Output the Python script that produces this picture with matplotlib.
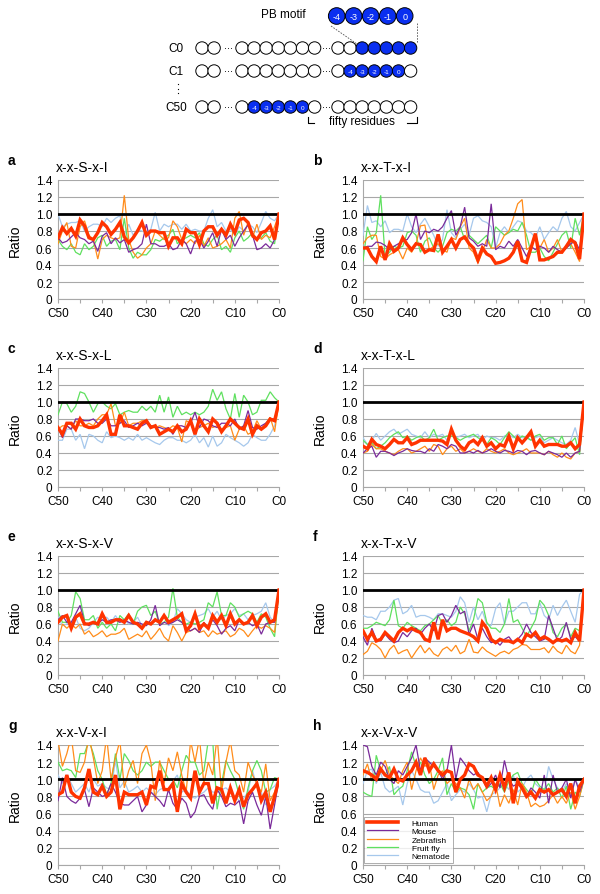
import matplotlib
matplotlib.use("Agg")
import matplotlib.pyplot as plt
from matplotlib.patches import Circle
from matplotlib.lines import Line2D

plt.rcParams['font.family'] = ['Liberation Sans', 'DejaVu Sans']

# ---------------- data ----------------
POSITIONS = list(range(50, -1, -1))          # C50 ... C0
XTICK_LABEL_VALUES = [50, 40, 30, 20, 10, 0]
YTICKS = [0, 0.2, 0.4, 0.6, 0.8, 1.0, 1.2, 1.4]
YTICK_LABELS = ["0", "0.2", "0.4", "0.6", "0.8", "1.0", "1.2", "1.4"]
SPECIES = ["Human", "Mouse", "Zebrafish", "Fruit fly", "Nematode"]
LETTERS = ["a", "b", "c", "d", "e", "f", "g", "h"]
MOTIFS = ["x-x-S-x-I", "x-x-T-x-I", "x-x-S-x-L", "x-x-T-x-L",
          "x-x-S-x-V", "x-x-T-x-V", "x-x-V-x-I", "x-x-V-x-V"]

# panel a
A_HUMAN = [0.72, 0.84, 0.77, 0.83, 0.74, 0.93, 0.86, 0.72, 0.70, 0.78,
           0.90, 0.85, 0.76, 0.82, 0.90, 0.73, 0.66, 0.72, 0.80, 0.90,
           0.75, 0.80, 0.80, 0.78, 0.78, 0.62, 0.72, 0.72, 0.65, 0.82,
           0.78, 0.78, 0.64, 0.80, 0.85, 0.85, 0.75, 0.82, 0.75, 0.88,
           0.78, 0.93, 0.95, 0.90, 0.75, 0.70, 0.78, 0.80, 0.86, 0.70, 1.0]
A_MOUSE = [0.72, 0.66, 0.68, 0.73, 0.78, 0.72, 0.70, 0.65, 0.68, 0.56,
           0.74, 0.78, 0.65, 0.72, 0.66, 0.70, 0.55, 0.58, 0.60, 0.65,
           0.88, 0.65, 0.65, 0.62, 0.62, 0.65, 0.58, 0.60, 0.70, 0.65,
           0.53, 0.68, 0.70, 0.60, 0.68, 0.78, 0.62, 0.82, 0.70, 0.75,
           0.62, 0.72, 0.80, 0.87, 0.75, 0.58, 0.60, 0.65, 0.60, 0.70, 1.0]
A_ZEBRA = [0.65, 0.80, 0.90, 0.62, 0.60, 0.85, 0.92, 0.75, 0.70, 0.47,
           0.70, 0.75, 0.72, 0.70, 0.72, 1.22, 0.70, 0.55, 0.48, 0.52,
           0.60, 0.65, 0.80, 0.75, 0.70, 0.72, 0.92, 0.85, 0.70, 0.65,
           0.70, 0.65, 0.75, 0.62, 0.72, 0.60, 0.62, 0.65, 0.70, 0.60,
           0.95, 1.03, 0.75, 0.90, 0.72, 0.88, 0.70, 0.75, 0.72, 0.85, 1.0]
A_FLY = [0.70, 0.62, 0.58, 0.65, 0.55, 0.52, 0.65, 0.58, 0.62, 0.72,
         0.75, 0.62, 0.68, 0.70, 0.58, 0.95, 0.60, 0.48, 0.55, 0.52,
         0.52, 0.58, 0.70, 0.68, 0.72, 0.75, 0.82, 0.65, 0.70, 0.72,
         0.75, 0.72, 0.78, 0.65, 0.62, 0.70, 0.75, 0.58, 0.62, 0.55,
         0.72, 0.80, 0.68, 0.72, 0.78, 0.70, 0.72, 0.78, 0.68, 0.65, 1.0]
A_WORM = [1.00, 0.85, 0.88, 0.90, 0.90, 0.92, 0.80, 0.85, 0.88, 0.88,
          0.85, 0.95, 0.90, 0.95, 0.98, 0.75, 0.88, 0.75, 0.82, 0.80,
          0.78, 0.82, 1.02, 0.80, 0.88, 0.85, 0.88, 0.88, 0.82, 0.88,
          0.80, 0.82, 0.80, 0.80, 0.95, 1.05, 0.85, 0.90, 0.80, 0.82,
          0.75, 0.85, 0.80, 0.88, 0.85, 0.78, 0.90, 1.03, 0.95, 0.92, 1.0]

# panel b
B_HUMAN = [0.60, 0.60, 0.50, 0.44, 0.62, 0.46, 0.65, 0.56, 0.60, 0.72,
           0.64, 0.58, 0.65, 0.64, 0.55, 0.58, 0.57, 0.76, 0.55, 0.62,
           0.70, 0.60, 0.70, 0.73, 0.65, 0.60, 0.46, 0.60, 0.53, 0.50,
           0.42, 0.43, 0.45, 0.48, 0.55, 0.68, 0.45, 0.43, 0.60, 0.77,
           0.46, 0.46, 0.48, 0.50, 0.55, 0.55, 0.62, 0.70, 0.66, 0.47, 1.0]
B_MOUSE = [0.60, 0.62, 0.62, 0.67, 0.66, 0.63, 0.58, 0.62, 0.65, 0.68,
           0.70, 0.78, 1.00, 0.70, 0.80, 0.78, 0.82, 0.80, 0.85, 0.95,
           1.04, 0.75, 0.85, 1.08, 0.72, 0.68, 0.62, 0.65, 0.62, 1.12,
           0.58, 0.62, 0.60, 0.68, 0.62, 0.70, 0.60, 0.50, 0.62, 0.58,
           0.62, 0.60, 0.55, 0.62, 0.58, 0.55, 0.60, 0.65, 0.68, 0.58, 1.0]
B_ZEBRA = [0.65, 0.72, 0.75, 0.75, 0.50, 0.47, 0.52, 0.55, 0.58, 0.47,
           0.60, 0.55, 0.65, 0.86, 0.87, 0.58, 0.62, 0.65, 0.58, 0.55,
           0.72, 0.70, 0.85, 0.95, 0.60, 0.55, 0.42, 0.55, 0.70, 0.60,
           0.60, 0.65, 0.75, 0.80, 0.95, 1.12, 1.17, 0.58, 0.62, 0.75,
           0.60, 0.70, 0.55, 0.60, 0.70, 0.55, 0.60, 0.65, 0.55, 0.44, 1.0]
B_FLY = [0.45, 0.85, 0.70, 0.78, 1.22, 0.50, 0.55, 0.62, 0.60, 0.62,
         0.78, 0.80, 0.75, 0.55, 0.68, 0.72, 0.60, 0.55, 0.62, 0.78,
         0.82, 0.80, 0.85, 0.70, 0.75, 0.70, 0.65, 0.70, 0.75, 0.60,
         0.85, 0.80, 0.75, 0.78, 0.82, 0.80, 0.90, 0.75, 0.55, 0.55,
         0.60, 0.50, 0.45, 0.55, 0.65, 0.75, 0.80, 0.60, 0.95, 0.75, 1.0]
B_WORM = [0.75, 1.10, 0.90, 0.92, 0.85, 0.92, 0.78, 0.82, 0.82, 0.80,
          1.00, 0.85, 0.78, 0.88, 0.95, 0.85, 0.75, 0.62, 0.70, 1.05,
          0.78, 0.72, 0.82, 0.88, 0.75, 0.95, 0.98, 0.92, 0.90, 0.85,
          0.60, 0.78, 0.85, 0.78, 0.85, 0.92, 0.90, 0.80, 0.78, 0.72,
          0.85, 0.70, 0.78, 0.85, 0.80, 0.95, 1.03, 0.85, 0.80, 0.90, 1.0]

# panel c
C_HUMAN = [0.70, 0.62, 0.75, 0.75, 0.68, 0.80, 0.72, 0.70, 0.70, 0.72,
           0.78, 0.85, 0.62, 0.62, 0.85, 0.72, 0.72, 0.70, 0.68, 0.75,
           0.78, 0.70, 0.72, 0.62, 0.65, 0.68, 0.65, 0.72, 0.65, 0.68,
           0.78, 0.62, 0.80, 0.72, 0.65, 0.80, 0.75, 0.65, 0.72, 0.80,
           0.75, 0.70, 0.68, 0.80, 0.62, 0.72, 0.68, 0.72, 0.80, 0.78, 1.0]
C_MOUSE = [0.70, 0.58, 0.72, 0.68, 0.80, 0.80, 0.78, 0.78, 0.80, 0.75,
           0.75, 0.80, 0.72, 0.72, 0.75, 0.78, 0.70, 0.72, 0.75, 0.72,
           0.75, 0.72, 0.70, 0.70, 0.68, 0.70, 0.62, 0.72, 0.72, 0.70,
           0.75, 0.88, 0.70, 0.80, 0.78, 0.72, 0.70, 0.75, 0.75, 0.72,
           0.80, 0.68, 0.72, 0.90, 0.70, 0.68, 0.72, 0.75, 0.80, 0.80, 1.0]
C_ZEBRA = [0.68, 0.72, 0.72, 0.68, 0.78, 0.72, 0.72, 0.75, 0.72, 0.80,
           0.85, 0.85, 0.98, 0.72, 0.75, 0.88, 0.72, 0.75, 0.75, 0.78,
           0.78, 0.72, 0.70, 0.72, 0.70, 0.68, 0.72, 0.70, 0.53, 0.78,
           0.75, 0.65, 0.70, 0.72, 0.75, 0.70, 0.72, 0.68, 0.70, 0.72,
           0.55, 0.68, 0.72, 0.62, 0.65, 0.78, 0.68, 0.75, 0.82, 0.65, 1.0]
C_FLY = [0.85, 1.00, 0.98, 0.88, 0.95, 1.12, 1.10, 1.00, 0.88, 0.98,
         1.00, 0.95, 0.92, 0.98, 0.85, 0.88, 0.90, 0.88, 0.88, 0.95,
         0.90, 0.95, 0.88, 1.08, 0.88, 1.06, 0.82, 0.95, 0.85, 0.88,
         0.85, 0.88, 0.85, 0.88, 0.95, 1.15, 1.02, 1.12, 0.92, 0.80,
         1.10, 0.82, 1.08, 1.00, 0.85, 0.88, 1.02, 1.02, 1.12, 1.05, 1.0]
C_WORM = [0.55, 0.55, 0.68, 0.68, 0.55, 0.62, 0.45, 0.62, 0.60, 0.55,
          0.52, 0.65, 0.58, 0.60, 0.58, 0.55, 0.58, 0.55, 0.62, 0.55,
          0.58, 0.55, 0.52, 0.50, 0.55, 0.58, 0.58, 0.55, 0.55, 0.52,
          0.55, 0.62, 0.52, 0.58, 0.47, 0.60, 0.48, 0.52, 0.62, 0.58,
          0.55, 0.52, 0.48, 0.52, 0.62, 0.58, 0.55, 0.55, 0.62, 0.72, 1.0]

# panel d
D_HUMAN = [0.48, 0.45, 0.56, 0.50, 0.48, 0.45, 0.50, 0.56, 0.52, 0.52,
           0.58, 0.50, 0.52, 0.55, 0.55, 0.55, 0.55, 0.55, 0.54, 0.50,
           0.68, 0.55, 0.48, 0.44, 0.52, 0.55, 0.50, 0.58, 0.48, 0.52,
           0.45, 0.50, 0.48, 0.60, 0.45, 0.58, 0.52, 0.58, 0.65, 0.48,
           0.55, 0.48, 0.50, 0.50, 0.50, 0.48, 0.48, 0.52, 0.45, 0.50, 1.0]
D_MOUSE = [0.40, 0.45, 0.48, 0.35, 0.42, 0.42, 0.40, 0.37, 0.40, 0.42,
           0.45, 0.43, 0.42, 0.42, 0.40, 0.45, 0.42, 0.50, 0.48, 0.45,
           0.50, 0.48, 0.40, 0.40, 0.42, 0.40, 0.43, 0.40, 0.42, 0.45,
           0.42, 0.40, 0.43, 0.42, 0.40, 0.43, 0.42, 0.38, 0.42, 0.43,
           0.40, 0.38, 0.42, 0.40, 0.38, 0.35, 0.40, 0.35, 0.40, 0.42, 1.0]
D_ZEBRA = [0.40, 0.42, 0.50, 0.45, 0.45, 0.42, 0.40, 0.38, 0.42, 0.45,
           0.45, 0.40, 0.42, 0.45, 0.48, 0.42, 0.50, 0.48, 0.38, 0.45,
           0.48, 0.42, 0.45, 0.40, 0.42, 0.45, 0.42, 0.40, 0.45, 0.42,
           0.40, 0.42, 0.45, 0.40, 0.38, 0.40, 0.42, 0.45, 0.40, 0.40,
           0.40, 0.38, 0.42, 0.38, 0.35, 0.40, 0.35, 0.33, 0.40, 0.42, 1.0]
D_FLY = [0.55, 0.50, 0.52, 0.45, 0.48, 0.52, 0.58, 0.62, 0.65, 0.58,
         0.60, 0.55, 0.58, 0.60, 0.55, 0.58, 0.68, 0.55, 0.58, 0.60,
         0.60, 0.58, 0.55, 0.58, 0.60, 0.62, 0.58, 0.55, 0.50, 0.58,
         0.55, 0.50, 0.58, 0.65, 0.60, 0.55, 0.60, 0.58, 0.55, 0.60,
         0.62, 0.55, 0.58, 0.58, 0.50, 0.60, 0.45, 0.52, 0.58, 0.38, 1.0]
D_WORM = [0.58, 0.50, 0.55, 0.63, 0.55, 0.60, 0.65, 0.68, 0.62, 0.65,
          0.68, 0.62, 0.60, 0.58, 0.65, 0.58, 0.62, 0.60, 0.62, 0.55,
          0.65, 0.58, 0.60, 0.62, 0.58, 0.60, 0.62, 0.55, 0.60, 0.58,
          0.58, 0.55, 0.60, 0.62, 0.58, 0.62, 0.58, 0.60, 0.55, 0.58,
          0.60, 0.52, 0.55, 0.58, 0.55, 0.52, 0.50, 0.55, 0.70, 0.50, 1.0]

# panel e
E_HUMAN = [0.62, 0.68, 0.70, 0.55, 0.68, 0.72, 0.60, 0.60, 0.62, 0.60,
           0.72, 0.62, 0.62, 0.65, 0.65, 0.62, 0.70, 0.62, 0.60, 0.55,
           0.62, 0.60, 0.65, 0.62, 0.70, 0.62, 0.65, 0.68, 0.72, 0.52,
           0.58, 0.72, 0.55, 0.60, 0.55, 0.70, 0.62, 0.70, 0.58, 0.72,
           0.60, 0.65, 0.60, 0.62, 0.70, 0.58, 0.68, 0.72, 0.62, 0.65, 1.0]
E_MOUSE = [0.65, 0.70, 0.62, 0.62, 0.72, 0.82, 0.62, 0.58, 0.62, 0.60,
           0.65, 0.62, 0.65, 0.65, 0.62, 0.65, 0.62, 0.60, 0.62, 0.60,
           0.58, 0.65, 0.82, 0.58, 0.62, 0.60, 0.62, 0.65, 0.62, 0.55,
           0.52, 0.55, 0.50, 0.62, 0.55, 0.65, 0.58, 0.48, 0.55, 0.58,
           0.52, 0.65, 0.60, 0.62, 0.58, 0.60, 0.48, 0.60, 0.62, 0.62, 1.0]
E_ZEBRA = [0.40, 0.60, 0.55, 0.60, 0.55, 0.60, 0.48, 0.52, 0.45, 0.48,
           0.52, 0.45, 0.48, 0.48, 0.50, 0.55, 0.42, 0.45, 0.48, 0.45,
           0.52, 0.42, 0.48, 0.55, 0.45, 0.40, 0.58, 0.50, 0.40, 0.50,
           0.52, 0.55, 0.50, 0.52, 0.45, 0.52, 0.48, 0.50, 0.52, 0.45,
           0.48, 0.55, 0.52, 0.45, 0.52, 0.58, 0.55, 0.58, 0.55, 0.50, 1.0]
E_FLY = [0.75, 0.62, 0.62, 0.70, 0.98, 0.90, 0.65, 0.65, 0.70, 0.55,
         0.62, 0.55, 0.60, 0.52, 0.70, 0.65, 0.72, 0.60, 0.75, 0.80,
         0.82, 0.70, 0.75, 0.60, 0.62, 0.68, 1.02, 0.68, 0.62, 0.60,
         0.62, 0.60, 0.62, 0.65, 0.85, 0.80, 0.98, 0.70, 0.70, 0.85,
         0.80, 0.68, 0.72, 0.75, 0.72, 0.62, 0.72, 0.68, 0.55, 0.45, 1.0]
E_WORM = [0.68, 0.58, 0.60, 0.62, 0.68, 0.55, 0.52, 0.55, 0.62, 0.68,
          0.65, 0.68, 0.62, 0.70, 0.62, 0.65, 0.60, 0.62, 0.68, 0.58,
          0.62, 0.60, 0.65, 0.62, 0.70, 0.58, 0.62, 0.78, 0.72, 0.65,
          0.62, 0.68, 0.70, 0.72, 0.78, 0.68, 0.75, 0.65, 0.70, 0.72,
          0.78, 0.70, 0.72, 0.65, 0.70, 0.72, 0.75, 0.85, 0.68, 0.62, 1.0]

# panel f
F_HUMAN = [0.52, 0.42, 0.50, 0.40, 0.42, 0.50, 0.45, 0.40, 0.50, 0.55,
           0.52, 0.55, 0.52, 0.50, 0.42, 0.40, 0.62, 0.42, 0.65, 0.52,
           0.55, 0.55, 0.52, 0.50, 0.48, 0.45, 0.40, 0.62, 0.55, 0.42,
           0.38, 0.42, 0.40, 0.40, 0.38, 0.42, 0.38, 0.48, 0.45, 0.50,
           0.42, 0.45, 0.42, 0.38, 0.42, 0.40, 0.42, 0.38, 0.50, 0.40, 1.0]
F_MOUSE = [0.45, 0.35, 0.55, 0.42, 0.40, 0.48, 0.42, 0.38, 0.40, 0.50,
           0.45, 0.52, 0.55, 0.48, 0.55, 0.60, 0.52, 0.70, 0.72, 0.62,
           0.70, 0.82, 0.72, 0.75, 0.48, 0.60, 0.42, 0.55, 0.45, 0.38,
           0.40, 0.35, 0.42, 0.45, 0.38, 0.42, 0.48, 0.60, 0.50, 0.45,
           0.40, 0.42, 0.70, 0.55, 0.40, 0.45, 0.62, 0.42, 0.45, 0.40, 1.0]
F_ZEBRA = [0.24, 0.28, 0.38, 0.35, 0.30, 0.20, 0.30, 0.35, 0.25, 0.28,
           0.30, 0.20, 0.28, 0.35, 0.26, 0.32, 0.25, 0.22, 0.30, 0.33,
           0.28, 0.35, 0.25, 0.28, 0.42, 0.27, 0.26, 0.33, 0.28, 0.25,
           0.22, 0.26, 0.28, 0.25, 0.30, 0.32, 0.36, 0.35, 0.30, 0.30,
           0.30, 0.32, 0.26, 0.34, 0.28, 0.25, 0.35, 0.28, 0.25, 0.35, 1.0]
F_FLY = [0.55, 0.55, 0.58, 0.62, 0.60, 0.58, 0.65, 0.88, 0.58, 0.55,
         0.62, 0.58, 0.55, 0.52, 0.58, 0.60, 0.65, 0.70, 0.60, 0.65,
         0.58, 0.62, 0.80, 0.72, 0.52, 0.65, 0.90, 0.85, 0.62, 0.55,
         0.55, 0.50, 0.60, 0.90, 0.62, 0.65, 0.55, 0.45, 0.55, 0.65,
         0.88, 0.82, 0.70, 0.50, 0.45, 0.55, 0.60, 0.45, 0.55, 0.52, 1.0]
F_WORM = [0.70, 0.68, 0.68, 0.65, 0.75, 0.75, 0.80, 0.88, 0.90, 0.72,
          0.75, 0.82, 0.68, 0.70, 0.70, 0.68, 0.65, 0.72, 0.72, 0.70,
          0.68, 0.75, 0.92, 0.85, 0.62, 0.80, 0.65, 0.75, 0.60, 0.58,
          0.78, 0.85, 0.60, 0.75, 0.75, 0.80, 0.85, 0.85, 0.72, 0.72,
          0.85, 0.70, 0.65, 0.82, 0.70, 0.80, 0.88, 0.75, 0.62, 0.95, 1.0]

# panel g
G_HUMAN = [0.82, 0.85, 1.05, 0.85, 0.80, 0.78, 0.90, 1.12, 0.85, 0.82,
           0.92, 0.80, 0.85, 1.05, 0.65, 0.85, 0.82, 0.82, 0.82, 0.85,
           0.70, 0.92, 0.90, 1.10, 0.88, 0.88, 0.95, 0.62, 0.95, 0.85,
           0.78, 1.10, 0.85, 0.95, 0.95, 0.72, 0.90, 0.88, 0.72, 0.90,
           0.75, 0.88, 0.68, 0.82, 0.88, 0.95, 0.75, 0.85, 0.62, 0.80, 1.0]
G_MOUSE = [0.75, 1.02, 0.80, 0.75, 0.72, 0.78, 0.88, 0.68, 0.90, 0.85,
           0.80, 0.82, 0.95, 0.85, 0.72, 0.70, 0.70, 0.75, 0.80, 0.62,
           0.70, 0.85, 0.80, 0.75, 0.68, 0.88, 0.72, 0.65, 0.78, 0.72,
           0.55, 0.62, 0.80, 0.82, 0.72, 0.65, 0.88, 0.80, 0.68, 0.72,
           0.70, 0.75, 0.48, 0.75, 0.85, 0.70, 0.58, 0.80, 0.42, 0.70, 1.0]
G_ZEBRA = [1.45, 1.15, 1.30, 1.50, 1.10, 1.08, 1.20, 1.50, 1.25, 0.95,
           1.10, 1.50, 1.00, 1.25, 1.45, 0.90, 1.10, 1.22, 0.95, 1.30,
           1.40, 1.20, 0.75, 1.22, 0.95, 1.25, 1.10, 1.32, 1.05, 0.85,
           1.45, 1.20, 1.48, 0.95, 1.20, 1.05, 1.50, 0.85, 1.20, 1.45,
           1.10, 1.05, 0.85, 1.20, 1.05, 0.95, 0.85, 1.18, 0.75, 0.85, 1.0]
G_FLY = [1.20, 1.10, 1.12, 1.10, 1.02, 1.30, 1.30, 1.45, 1.30, 1.10,
         1.00, 0.82, 0.95, 1.30, 1.00, 1.30, 1.22, 1.10, 1.05, 1.10,
         1.20, 1.15, 1.20, 1.20, 1.10, 1.00, 1.00, 0.90, 1.10, 1.28,
         1.20, 1.20, 1.05, 1.10, 1.45, 1.45, 0.65, 0.95, 1.22, 1.10,
         1.00, 0.82, 0.65, 0.90, 1.10, 1.22, 1.10, 0.85, 0.88, 1.02, 1.0]
G_WORM = [1.05, 0.95, 1.05, 0.95, 0.85, 0.90, 0.95, 0.85, 1.00, 0.92,
          0.95, 0.90, 0.88, 1.22, 0.90, 0.98, 0.85, 0.88, 0.92, 0.85,
          0.90, 0.85, 0.82, 0.88, 0.90, 0.85, 0.98, 1.05, 0.85, 0.88,
          0.80, 0.78, 0.82, 0.85, 0.90, 0.85, 0.85, 0.88, 0.90, 0.85,
          0.80, 0.75, 0.78, 0.85, 1.10, 0.92, 0.85, 0.70, 0.88, 0.92, 1.0]

# panel h
H_HUMAN = [1.10, 1.08, 1.05, 1.00, 1.12, 1.05, 1.02, 1.12, 1.00, 0.98,
           1.05, 1.10, 1.20, 1.05, 1.25, 1.10, 1.18, 1.10, 1.05, 1.10,
           1.08, 0.85, 1.00, 1.05, 1.18, 1.15, 1.05, 1.02, 0.92, 1.02,
           0.88, 1.05, 0.90, 1.08, 0.72, 0.98, 0.90, 0.80, 0.85, 0.78,
           0.88, 0.85, 0.88, 0.82, 0.85, 0.88, 0.80, 0.95, 0.72, 0.92, 1.0]
H_MOUSE = [1.40, 1.38, 1.15, 1.05, 1.20, 1.15, 1.00, 0.95, 1.10, 1.05,
           1.15, 1.25, 1.40, 1.10, 1.25, 1.20, 1.15, 1.10, 1.00, 1.10,
           1.40, 1.00, 1.25, 1.18, 1.10, 1.05, 1.08, 1.00, 0.90, 0.95,
           1.05, 0.90, 1.22, 1.00, 0.92, 0.95, 0.88, 0.80, 0.90, 0.85,
           0.78, 1.05, 0.72, 1.05, 0.85, 0.90, 1.00, 0.78, 1.00, 0.85, 1.0]
H_ZEBRA = [1.05, 1.18, 0.98, 1.05, 1.10, 1.22, 1.05, 1.00, 0.95, 1.10,
           1.20, 0.88, 1.10, 1.25, 1.15, 1.20, 0.88, 1.05, 1.10, 0.95,
           1.00, 0.95, 0.90, 0.78, 1.00, 0.88, 0.95, 0.85, 0.75, 0.80,
           0.95, 0.68, 0.82, 0.72, 0.88, 0.70, 0.95, 0.85, 0.68, 0.72,
           0.68, 0.70, 0.75, 0.82, 0.72, 0.80, 0.72, 0.85, 0.65, 0.80, 1.0]
H_FLY = [0.85, 0.82, 0.80, 1.28, 1.10, 1.05, 1.15, 0.82, 0.88, 0.92,
         1.10, 1.32, 1.15, 1.20, 1.05, 0.95, 1.00, 1.10, 1.25, 0.82,
         0.95, 0.85, 0.90, 0.88, 0.82, 0.65, 0.95, 0.85, 0.90, 0.92,
         0.88, 0.95, 0.85, 0.98, 1.05, 1.08, 0.95, 0.88, 0.82, 1.00,
         0.92, 0.88, 0.95, 0.85, 0.90, 0.78, 0.92, 0.65, 0.85, 0.80, 1.0]
H_WORM = [0.95, 1.10, 1.12, 0.95, 1.08, 0.90, 0.85, 0.88, 0.92, 0.70,
          0.95, 1.10, 1.00, 0.88, 0.85, 0.85, 0.72, 0.75, 0.85, 0.95,
          0.75, 0.82, 0.88, 0.85, 0.95, 0.88, 0.78, 0.80, 0.62, 0.82,
          0.85, 0.90, 0.95, 0.88, 1.05, 0.85, 0.90, 1.00, 1.05, 0.95,
          0.90, 0.85, 1.15, 1.00, 0.90, 0.85, 0.95, 0.80, 1.00, 0.90, 1.0]

PANELS = [
    (A_HUMAN, A_MOUSE, A_ZEBRA, A_FLY, A_WORM),
    (B_HUMAN, B_MOUSE, B_ZEBRA, B_FLY, B_WORM),
    (C_HUMAN, C_MOUSE, C_ZEBRA, C_FLY, C_WORM),
    (D_HUMAN, D_MOUSE, D_ZEBRA, D_FLY, D_WORM),
    (E_HUMAN, E_MOUSE, E_ZEBRA, E_FLY, E_WORM),
    (F_HUMAN, F_MOUSE, F_ZEBRA, F_FLY, F_WORM),
    (G_HUMAN, G_MOUSE, G_ZEBRA, G_FLY, G_WORM),
    (H_HUMAN, H_MOUSE, H_ZEBRA, H_FLY, H_WORM),
]

# diagram content
MOTIF_LABELS = ["-4", "-3", "-2", "-1", "0"]
ROW_LABELS = ["C0", "C1", "C50"]

# ---------------- style ----------------
COLORS = {"Human": "#ff3300", "Mouse": "#7a2a9a", "Zebrafish": "#ff8c1a",
          "Fruit fly": "#5fe05f", "Nematode": "#a6c8ec"}
WIDTHS = {"Human": 2.4, "Mouse": 0.9, "Zebrafish": 0.9, "Fruit fly": 0.9, "Nematode": 0.9}
BLUE = "#0a2ff0"
GRID = "#a8a8a8"

W, H = 600, 895
fig = plt.figure(figsize=(W / 100, H / 100), dpi=100)

def fx(px):
    return px / W

def fy(px):
    return 1 - px / H

# ---------------- schematic ----------------
top = fig.add_axes([0, fy(140), 1, 140 / H])
top.set_xlim(0, W)
top.set_ylim(140, 0)
top.axis("off")

r_small, step = 6.2, 12.1
xs_a = [202 + k * step for k in range(2)]
xs_b = [242 + k * step for k in range(7)]
xs_c = [338 + k * step for k in range(7)]
row_y = [49, 72, 108]
# (group, first blue index, labelled?)
row_spec = [("c", 2, False), ("c", 1, True), ("b", 1, True)]
for label, yy, (grp, first, labelled) in zip(ROW_LABELS, row_y, row_spec):
    top.text(176, yy, label, ha="center", va="center", fontsize=8.5)
    groups = {"a": xs_a, "b": xs_b, "c": xs_c}
    for gname, xs in groups.items():
        for k, xx in enumerate(xs):
            blue = (gname == grp and first <= k < first + 5)
            top.add_patch(Circle((xx, yy), r_small, facecolor=BLUE if blue else "white",
                                 edgecolor="black", lw=0.7, zorder=2))
            if blue and labelled:
                top.text(xx, yy, MOTIF_LABELS[k - first], ha="center", va="center",
                         fontsize=4.6, color="white", zorder=3)
    for dx in (228, 326):
        top.plot([dx - 3.2, dx, dx + 3.2], [yy] * 3, "o", color="black", ms=0.6,
                 mew=0, zorder=3)
# vertical ellipsis
top.plot([178, 178, 178], [85, 89.5, 94], "o", color="black", ms=0.9, mew=0)

# PB motif
r_big, step_big = 8.3, 17.0
for k, lab in enumerate(MOTIF_LABELS):
    xx = 336.7 + k * step_big
    top.add_patch(Circle((xx, 17), r_big, facecolor=BLUE, edgecolor="black", lw=0.7, zorder=2))
    top.text(xx, 17, lab, ha="center", va="center", fontsize=6.5, color="white", zorder=3)
top.text(283, 15, "PB motif", ha="center", va="center", fontsize=8.5)
top.plot([331, 357], [27, 45], ls=(0, (2, 1.5)), color="#555555", lw=0.6)
top.plot([417, 417], [24, 44], ls=(0, (2, 1.5)), color="#555555", lw=0.6)
# bracket
top.plot([308, 308, 314], [118, 124, 124], color="black", lw=0.8)
top.plot([407, 417, 417], [124, 124, 118], color="black", lw=0.8)
top.text(362, 122, "fifty residues", ha="center", va="center", fontsize=8.5)

# ---------------- panels ----------------
row_tops = [181, 369, 557, 746]
row_bots = [300, 488, 676, 866]
col_lefts = [58, 363]
ax_w = 221

order = ["Nematode", "Fruit fly", "Zebrafish", "Mouse"]
for idx, (letter, motif, series) in enumerate(zip(LETTERS, MOTIFS, PANELS)):
    r, c = divmod(idx, 2)
    t, b, l = row_tops[r], row_bots[r], col_lefts[c]
    ax = fig.add_axes([fx(l), fy(b), ax_w / W, (b - t) / H])
    data = dict(zip(SPECIES, series))
    for sp in order:
        ax.plot(POSITIONS, data[sp], color=COLORS[sp], lw=WIDTHS[sp], zorder=3,
                solid_joinstyle="miter")
    ax.axhline(1.0, color="black", lw=2.0, zorder=4)
    ax.plot(POSITIONS, data["Human"], color=COLORS["Human"], lw=WIDTHS["Human"],
            zorder=5, solid_joinstyle="miter")
    ax.set_xlim(50, 0)
    ax.set_ylim(0, 1.4)
    ax.set_yticks(YTICKS)
    ax.set_yticklabels(YTICK_LABELS, fontsize=8.5)
    ax.set_xticks(list(range(0, 51, 5)))
    ax.set_xticklabels([f"C{v}" if v in XTICK_LABEL_VALUES else "" for v in range(0, 51, 5)],
                       fontsize=8.5)
    ax.tick_params(axis="y", length=0, pad=4)
    ax.tick_params(axis="x", length=3, width=0.8, color=GRID, direction="out", pad=3)
    ax.grid(axis="y", color=GRID, lw=0.8, zorder=0)
    ax.set_axisbelow(True)
    for s in ("top", "right"):
        ax.spines[s].set_visible(False)
    for s in ("left", "bottom"):
        ax.spines[s].set_color(GRID)
        ax.spines[s].set_linewidth(0.8)
    ax.set_ylabel("Ratio", fontsize=10)
    ax.yaxis.set_label_coords(-0.165, 0.5)
    fig.text(fx(l - 50), fy(t - 16), letter, fontsize=10, fontweight="bold",
             ha="left", va="baseline")
    fig.text(fx(l - 2), fy(t - 9), motif, fontsize=10, ha="left", va="baseline")
    if letter == "h":
        handles = [Line2D([], [], color=COLORS[sp], lw=WIDTHS[sp] if sp != "Human" else 2.6)
                   for sp in SPECIES]
        leg = ax.legend(handles, SPECIES, loc="lower left", bbox_to_anchor=(0.005, 0.02),
                        fontsize=6, frameon=True, fancybox=False, handlelength=3.8,
                        handletextpad=1.6, borderpad=0.3, labelspacing=0.05,
                        borderaxespad=0.0)
        leg.get_frame().set_edgecolor("#888888")
        leg.get_frame().set_linewidth(0.6)
        leg.set_zorder(10)

fig.savefig("out.png", dpi=100)
